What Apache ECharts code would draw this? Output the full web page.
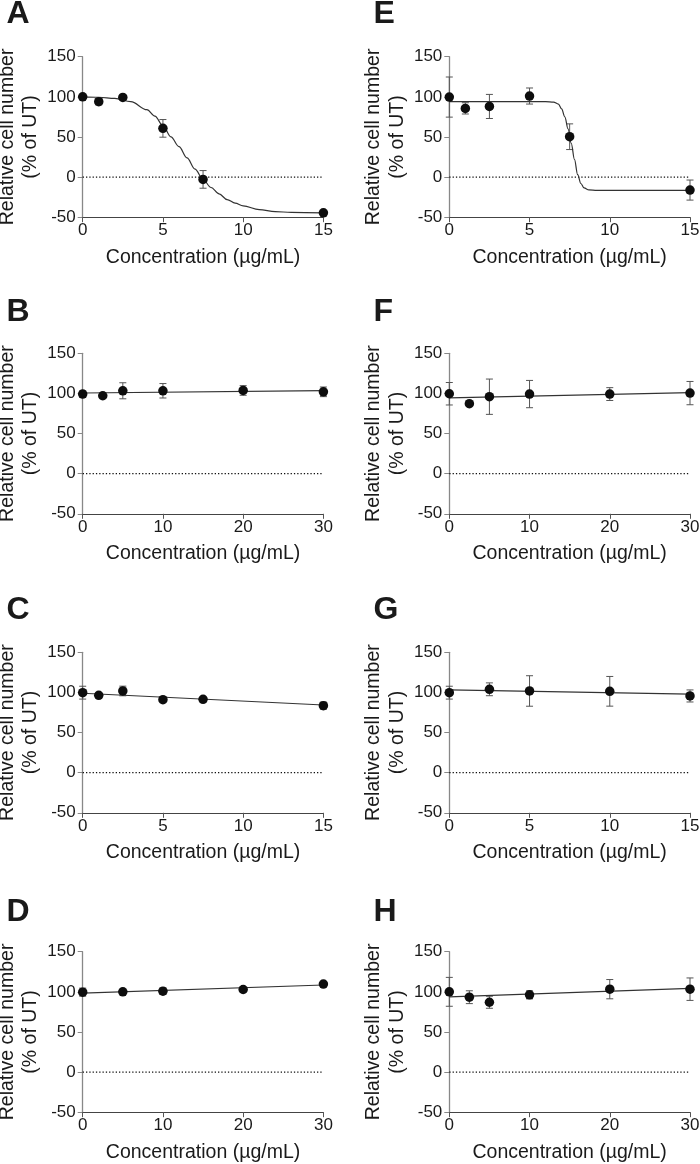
<!DOCTYPE html>
<html>
<head>
<meta charset="utf-8">
<script src="https://cdn.jsdelivr.net/npm/echarts@6/dist/echarts.min.js"></script>
<style>
html,body{margin:0;padding:0;background:#fff;}
#chart{width:700px;height:1164px;}
</style>
</head>
<body>
<div id="chart"></div>
<script>
// ---------- DATA ----------
const panelLetters = ['A','B','C','D','E','F','G','H'];
const yTicks = [-50, 0, 50, 100, 150];
const xTicks15 = [0, 5, 10, 15];
const xTicks30 = [0, 10, 20, 30];
const xTitle = 'Concentration (µg/mL)';
const yTitle = 'Relative cell number\n(% of UT)';

// Panel A
const concA = [0, 1, 2.5, 5, 7.5, 15];
const cellA = [100, 94, 99.3, 60.7, -2.9, -44.5];
const errA  = [0, 4, 0, 11, 11, 0];
const fitXA = [0, 1, 2, 3, 4, 4.5, 5, 5.5, 6, 6.5, 7, 7.5, 8, 8.5, 9, 9.5, 10, 11, 12, 13, 15];
const fitYA = [100, 99.5, 98, 94, 84, 76, 64, 50, 38, 24, 10, -3, -13, -21, -28, -32.5, -36, -40.5, -43, -44, -44.7];
// Panel B
const concB = [0, 2.5, 5, 10, 20, 30];
const cellB = [99.2, 97.1, 103.3, 103.3, 103.7, 102];
const errB  = [4, 0, 10, 9, 6, 6];
const fitXB = [0, 30];
const fitYB = [100.5, 103.5];
// Panel C
const concC = [0, 1, 2.5, 5, 7.5, 15];
const cellC = [99.7, 96.4, 101.8, 91, 91.4, 83.5];
const errC  = [8, 0, 6, 0, 0, 4.5];
const fitXC = [0, 15];
const fitYC = [99, 84.3];
// Panel D
const concD = [0, 5, 10, 20, 30];
const cellD = [99.6, 100, 100.8, 102.9, 109.6];
const errD  = [5, 0, 4, 0, 0];
const fitXD = [0, 30];
const fitYD = [98.3, 108.5];
// Panel E
const concE = [0, 1, 2.5, 5, 7.5, 15];
const cellE = [99.7, 85.6, 88, 101, 50.3, -16.2];
const errE  = [25, 7, 15, 10, 16, 12.5];
const fitXE = [0, 6, 6.5, 6.8, 7.0, 7.2, 7.4, 7.6, 7.8, 8.0, 8.2, 8.4, 8.7, 9.2, 15];
const fitYE = [94, 94, 93.5, 91, 85, 75, 60, 42, 22, 3, -8, -13.5, -16, -16.5, -16.5];
// Panel F
const concF = [0, 2.5, 5, 10, 20, 30];
const cellF = [99.6, 87.2, 95.9, 99.2, 99.2, 100.4];
const errF  = [14, 0, 22, 17, 8, 14.5];
const fitXF = [0, 30];
const fitYF = [94.5, 101];
// Panel G
const concG = [0, 2.5, 5, 10, 15];
const cellG = [99.7, 103.9, 101.8, 101.4, 95.6];
const errG  = [8, 8, 19, 18.5, 7.5];
const fitXG = [0, 15];
const fitYG = [103.2, 98];
// Panel H
const concH = [0, 2.5, 5, 10, 20, 30];
const cellH = [100, 93.3, 87, 96.25, 103.3, 103.3];
const errH  = [18, 8, 7.5, 5, 12, 14];
const fitXH = [0, 30];
const fitYH = [93.8, 104.2];

// ---------- BUILD ----------
const panels = [
  {conc: concA, cell: cellA, err: errA, fx: fitXA, fy: fitYA, ticks: xTicks15},
  {conc: concB, cell: cellB, err: errB, fx: fitXB, fy: fitYB, ticks: xTicks30},
  {conc: concC, cell: cellC, err: errC, fx: fitXC, fy: fitYC, ticks: xTicks15},
  {conc: concD, cell: cellD, err: errD, fx: fitXD, fy: fitYD, ticks: xTicks30},
  {conc: concE, cell: cellE, err: errE, fx: fitXE, fy: fitYE, ticks: xTicks15},
  {conc: concF, cell: cellF, err: errF, fx: fitXF, fy: fitYF, ticks: xTicks30},
  {conc: concG, cell: cellG, err: errG, fx: fitXG, fy: fitYG, ticks: xTicks15},
  {conc: concH, cell: cellH, err: errH, fx: fitXH, fy: fitYH, ticks: xTicks30}
];

const colLeft = [82.7, 449.3];
const rowTop = [56.7, 353.3, 652.3, 951.7];
const gridW = 240.7, gridH = 160.5;
const letterLeft = [6.5, 373.5];
const letterTop = [-2, 296, 594.5, 896];
const FONT = '"Liberation Sans", Arial, Helvetica, sans-serif';

const grid = [], xAxis = [], yAxis = [], series = [], title = [];

function errRender(params, api) {
  const x = api.value(0), y = api.value(1), e = api.value(2);
  if (!e) return null;
  const t = api.coord([x, y + e]);
  const b = api.coord([x, y - e]);
  const hw = 3.5;
  const st = {stroke: '#555', lineWidth: 1};
  return {
    type: 'group',
    children: [
      {type: 'line', shape: {x1: t[0], y1: t[1], x2: b[0], y2: b[1]}, style: st},
      {type: 'line', shape: {x1: t[0] - hw, y1: t[1], x2: t[0] + hw, y2: t[1]}, style: st},
      {type: 'line', shape: {x1: b[0] - hw, y1: b[1], x2: b[0] + hw, y2: b[1]}, style: st}
    ]
  };
}

panels.forEach((p, i) => {
  const col = i < 4 ? 0 : 1;
  const row = i % 4;
  grid.push({left: colLeft[col], top: rowTop[row], width: gridW, height: gridH,
             containLabel: false, outerBoundsMode: 'none'});
  const xmin = p.ticks[0], xmax = p.ticks[p.ticks.length - 1];
  xAxis.push({
    type: 'value', gridIndex: i, min: xmin, max: xmax, interval: p.ticks[1] - p.ticks[0],
    name: xTitle, nameLocation: 'middle', nameGap: 30, nameMoveOverlap: false,
    nameTextStyle: {fontFamily: FONT, fontSize: 19.5, color: '#1a1a1a'},
    axisLine: {show: true, onZero: false, lineStyle: {color: '#444', width: 1}},
    axisTick: {show: true, inside: false, length: 5, lineStyle: {color: '#555', width: 1}},
    axisLabel: {fontFamily: FONT, fontSize: 17, color: '#1a1a1a', margin: 5},
    splitLine: {show: false}
  });
  yAxis.push({
    type: 'value', gridIndex: i, min: yTicks[0], max: yTicks[yTicks.length - 1],
    interval: yTicks[1] - yTicks[0],
    name: yTitle, nameLocation: 'middle', nameRotate: 90, nameGap: 40, nameMoveOverlap: false,
    nameTextStyle: {fontFamily: FONT, fontSize: 19.5, color: '#1a1a1a', lineHeight: 23.5, align: 'center'},
    axisLine: {show: true, onZero: false, lineStyle: {color: '#888', width: 1.3}},
    axisTick: {show: true, inside: false, length: 5, lineStyle: {color: '#888', width: 1}},
    axisLabel: {fontFamily: FONT, fontSize: 17, color: '#1a1a1a', margin: 7},
    splitLine: {show: false}
  });
  // dotted zero line
  series.push({
    type: 'line', xAxisIndex: i, yAxisIndex: i, data: [[xmin, 0], [xmax, 0]],
    symbol: 'none', silent: true, z: 1,
    lineStyle: {color: '#111', width: 1.3, type: [1.3, 2]}
  });
  // error bars
  series.push({
    type: 'custom', xAxisIndex: i, yAxisIndex: i, z: 2, clip: false,
    data: p.conc.map((c, k) => [c, p.cell[k], p.err[k]]),
    encode: {x: 0, y: 1},
    renderItem: errRender
  });
  // fit curve
  series.push({
    type: 'line', xAxisIndex: i, yAxisIndex: i, z: 3, symbol: 'none',
    data: p.fx.map((x, k) => [x, p.fy[k]]),
    smooth: p.fx.length > 2 ? 0.35 : false, smoothMonotone: 'x',
    lineStyle: {color: '#333', width: 1.2}
  });
  // points
  series.push({
    type: 'scatter', xAxisIndex: i, yAxisIndex: i, z: 4,
    data: p.conc.map((c, k) => [c, p.cell[k]]),
    symbol: 'circle', symbolSize: 9.5,
    itemStyle: {color: '#0d0d0d', opacity: 1}
  });
  title.push({
    text: panelLetters[i], left: letterLeft[col], top: letterTop[row], padding: 0,
    textStyle: {fontFamily: FONT, fontSize: 32, fontWeight: 'bold', color: '#1a1a1a'}
  });
});

const chart = echarts.init(document.getElementById('chart'), null, {renderer: 'canvas'});
chart.setOption({
  animation: false,
  backgroundColor: '#fff',
  title, grid, xAxis, yAxis, series
});
</script>
</body>
</html>
